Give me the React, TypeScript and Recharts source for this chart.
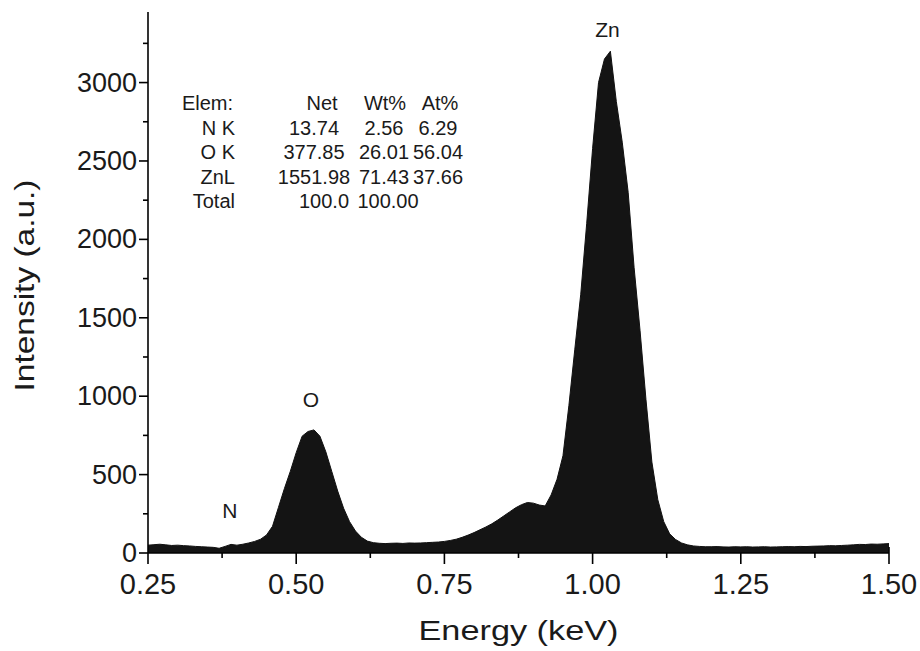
import React from 'react';
import { AreaChart, Area, XAxis, YAxis, ReferenceDot, Label } from 'recharts';

// ---- data ----
const energyKeV = [
  0.25, 0.26, 0.27, 0.28, 0.29, 0.30, 0.31, 0.32, 0.33, 0.34,
  0.35, 0.36, 0.37, 0.38, 0.39, 0.40, 0.41, 0.42, 0.43, 0.44,
  0.45, 0.46, 0.47, 0.48, 0.49, 0.50, 0.51, 0.52, 0.53, 0.54,
  0.55, 0.56, 0.57, 0.58, 0.59, 0.60, 0.61, 0.62, 0.63, 0.64,
  0.65, 0.66, 0.67, 0.68, 0.69, 0.70, 0.71, 0.72, 0.73, 0.74,
  0.75, 0.76, 0.77, 0.78, 0.79, 0.80, 0.81, 0.82, 0.83, 0.84,
  0.85, 0.86, 0.87, 0.88, 0.89, 0.90, 0.91, 0.92, 0.93, 0.94,
  0.95, 0.96, 0.97, 0.98, 0.99, 1.00, 1.01, 1.02, 1.03, 1.04,
  1.05, 1.06, 1.07, 1.08, 1.09, 1.10, 1.11, 1.12, 1.13, 1.14,
  1.15, 1.16, 1.17, 1.18, 1.19, 1.20, 1.21, 1.22, 1.23, 1.24,
  1.25, 1.26, 1.27, 1.28, 1.29, 1.30, 1.31, 1.32, 1.33, 1.34,
  1.35, 1.36, 1.37, 1.38, 1.39, 1.40, 1.41, 1.42, 1.43, 1.44,
  1.45, 1.46, 1.47, 1.48, 1.49, 1.50,
];

const intensity = [
  50, 53, 56, 52, 48, 50, 47, 45, 42, 40,
  38, 36, 30, 42, 55, 50, 56, 64, 74, 88,
  115, 170, 290, 410, 520, 640, 745, 775, 785, 745,
  645, 520, 395, 285, 200, 140, 100, 76, 66, 62,
  60, 62, 63, 61, 64, 63, 64, 66, 68, 70,
  74, 80, 88, 100, 114, 130, 148, 166, 186, 210,
  236, 262, 288, 308, 322, 318, 306, 300, 370, 470,
  620, 940, 1300, 1650, 2100, 2580, 3000, 3150, 3200, 2880,
  2620, 2300, 1820, 1420, 980, 580, 340, 200, 122, 86,
  64, 52, 45, 42, 40, 40, 41, 39, 38, 40,
  39, 40, 38, 39, 40, 38, 39, 40, 41, 40,
  42, 41, 43, 44, 45, 47, 46, 48, 50, 52,
  55, 54, 57, 56, 58, 60,
];

const xTicks = [0.25, 0.375, 0.5, 0.625, 0.75, 0.875, 1.0, 1.125, 1.25, 1.375, 1.5];
const yTicks = [0, 250, 500, 750, 1000, 1250, 1500, 1750, 2000, 2250, 2500, 2750, 3000, 3250];

const peakLabels = ['N', 'O', 'Zn'];
const peakEnergies = [0.388, 0.525, 1.025];
const peakLabelHeights = [274, 976, 3338];

const tableHeader = ['Elem:', 'Net', 'Wt%', 'At%'];
const tableElements = ['N K', 'O K', 'ZnL', 'Total'];
const tableNet = ['13.74', '377.85', '1551.98', '100.0'];
const tableWt = ['2.56', '26.01', '71.43', '100.00'];
const tableAt = ['6.29', '56.04', '37.66', ''];

const data = energyKeV.map((e, i) => ({ e, v: intensity[i] }));

const FONT = '"Liberation Sans", Arial, Helvetica, sans-serif';
const INK = '#1a1a1a';

const XTick = (props: any) => {
  const { x, y, payload } = props;
  const v = payload.value as number;
  const major = Math.abs(v * 4 - Math.round(v * 4)) < 1e-6;
  return (
    <g>
      <line x1={x} x2={x} y1={y} y2={y + (major ? 11 : 5)} stroke="#000" strokeWidth={1.6} />
      {v === 1.5 && <line x1={x} x2={x} y1={y} y2={y - 6} stroke="#000" strokeWidth={1.6} />}
      {major && (
        <text x={x} y={y + 31} textAnchor="middle" dominantBaseline="central" fontSize={29} fontFamily={FONT} fill={INK}>
          {v.toFixed(2)}
        </text>
      )}
    </g>
  );
};

const YTick = (props: any) => {
  const { x, y, payload } = props;
  const v = payload.value as number;
  const major = v % 500 === 0;
  return (
    <g>
      <line x1={x} x2={x - (major ? 9 : 5)} y1={y} y2={y} stroke="#000" strokeWidth={1.6} />
      {major && (
        <text x={x - 11} y={y} textAnchor="end" dominantBaseline="central" fontSize={27} fontFamily={FONT} fill={INK}>
          {String(v)}
        </text>
      )}
    </g>
  );
};

const XTitle = (props: any) => {
  const vb = props.viewBox || {};
  const cx = vb.x + vb.width / 2;
  return (
    <text x={cx} y={vb.y + 77} textAnchor="middle" dominantBaseline="central" fontSize={28} fontFamily={FONT} fill={INK}
      textLength={200} lengthAdjust="spacingAndGlyphs">
      Energy (keV)
    </text>
  );
};

const YTitle = (props: any) => {
  const vb = props.viewBox || {};
  const cy = vb.y + vb.height / 2 + 3;
  const cx = 24;
  return (
    <text x={cx} y={cy} transform={`rotate(-90 ${cx} ${cy})`} textAnchor="middle" dominantBaseline="central" fontSize={28}
      fontFamily={FONT} fill={INK} textLength={212} lengthAdjust="spacingAndGlyphs">
      Intensity (a.u.)
    </text>
  );
};

const PeakLabel = (text: string) => (props: any) => {
  const vb = props.viewBox || {};
  return (
    <text x={vb.x} y={vb.y} textAnchor="middle" dominantBaseline="central" fontSize={21} fontFamily={FONT} fill={INK}>
      {text}
    </text>
  );
};

// table layout (pixel positions of columns / rows)
const rowY0 = 103;
const rowStep = 24.5;
const labelRight = 235;
const netX = 314;
const wtX = 384;
const atX = 438;
const totalNetX = 324;
const totalWtX = 388;

const Table = () => (
  <svg width={920} height={651} style={{ position: 'absolute', left: 0, top: 0, pointerEvents: 'none' }}>
    <g fontFamily={FONT} fontSize={20} fill={INK} dominantBaseline="central">
      <text x={labelRight - 2} y={rowY0} textAnchor="end">{tableHeader[0]}</text>
      <text x={322} y={rowY0} textAnchor="middle">{tableHeader[1]}</text>
      <text x={385} y={rowY0} textAnchor="middle">{tableHeader[2]}</text>
      <text x={440} y={rowY0} textAnchor="middle">{tableHeader[3]}</text>
      {tableElements.map((el, i) => {
        const y = rowY0 + rowStep * (i + 1);
        const isTotal = i === tableElements.length - 1;
        return (
          <g key={el}>
            <text x={labelRight} y={y} textAnchor="end">{el}</text>
            <text x={isTotal ? totalNetX : netX} y={y} textAnchor="middle">{tableNet[i]}</text>
            <text x={isTotal ? totalWtX : wtX} y={y} textAnchor="middle">{tableWt[i]}</text>
            {tableAt[i] && <text x={atX} y={y} textAnchor="middle">{tableAt[i]}</text>}
          </g>
        );
      })}
    </g>
  </svg>
);

export default function App() {
  return (
    <div style={{ position: 'absolute', left: 0, top: 0, width: 920, height: 651, background: '#fff' }}>
      <AreaChart width={920} height={651} data={data} margin={{ top: 12, right: 31, left: 0, bottom: 0 }}>
        <XAxis
          dataKey="e"
          type="number"
          domain={[0.25, 1.5]}
          ticks={xTicks}
          allowDataOverflow
          height={98}
          tickSize={0}
          tickMargin={0}
          tickLine={false}
          axisLine={{ stroke: '#000', strokeWidth: 1.6 }}
          tick={<XTick />}
          interval={0}
        >
          <Label content={<XTitle />} />
        </XAxis>
        <YAxis
          type="number"
          domain={[0, 3450]}
          ticks={yTicks}
          allowDataOverflow
          width={148}
          tickSize={0}
          tickMargin={0}
          tickLine={false}
          axisLine={{ stroke: '#000', strokeWidth: 1.6 }}
          tick={<YTick />}
          interval={0}
        >
          <Label content={<YTitle />} />
        </YAxis>
        <Area
          type="linear"
          dataKey="v"
          stroke="#111"
          strokeWidth={1}
          fill="#141414"
          fillOpacity={1}
          isAnimationActive={false}
          baseValue={0}
        />
        {peakLabels.map((t, i) => (
          <ReferenceDot key={t} x={peakEnergies[i]} y={peakLabelHeights[i]} r={0} stroke="none" fill="none"
            label={{ content: PeakLabel(t) }} ifOverflow="visible" />
        ))}
      </AreaChart>
      <Table />
    </div>
  );
}
